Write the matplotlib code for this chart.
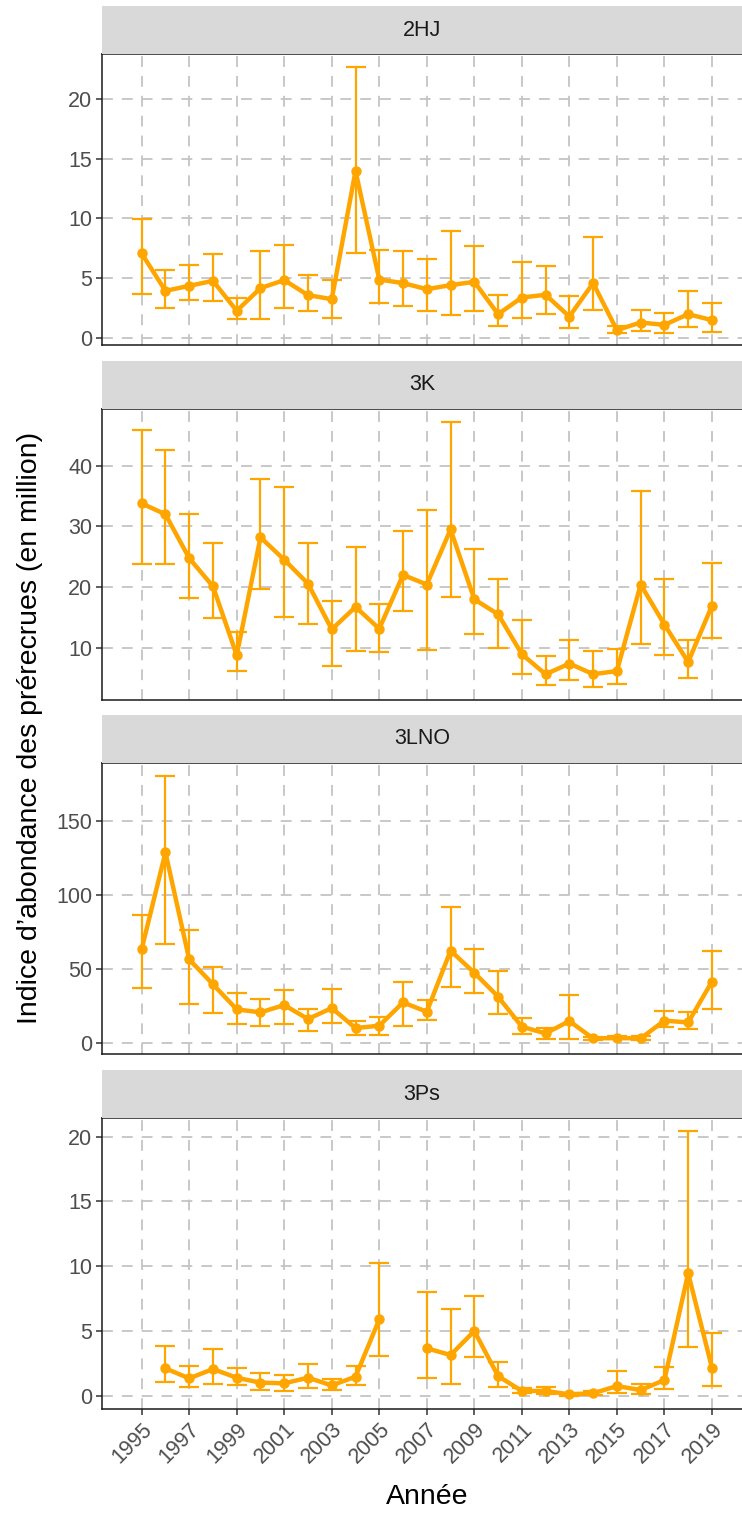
import numpy as np
import matplotlib
matplotlib.use("Agg")
import matplotlib.pyplot as plt

plt.rcParams["font.family"] = ["Liberation Sans", "DejaVu Sans"]

# ---------------------------------------------------------------
# Data
# ---------------------------------------------------------------
years = list(range(1995, 2020))
regions = ["2HJ", "3K", "3LNO", "3Ps"]

nan = np.nan
est_2hj = [7.06, 3.92, 4.34, 4.76, 2.24, 4.15, 4.82, 3.56, 3.22, 14.0, 4.87, 4.57, 4.06,
           4.40, 4.68, 1.96, 3.36, 3.59, 1.76, 4.57, 0.62, 1.26, 1.06, 1.96, 1.46]
low_2hj = [3.64, 2.52, 3.14, 3.08, 1.54, 1.54, 2.46, 2.24, 1.68, 7.11, 2.89, 2.66, 2.21,
           1.93, 2.21, 0.95, 1.68, 1.99, 0.76, 2.32, 0.42, 0.56, 0.42, 0.90, 0.48]
upp_2hj = [9.94, 5.69, 6.13, 7.00, 3.36, 7.28, 7.76, 5.27, 4.85, 22.7, 7.37, 7.28, 6.61,
           8.96, 7.70, 3.56, 6.36, 5.99, 3.50, 8.43, 0.98, 2.35, 2.04, 3.87, 2.91]

est_3k = [33.8, 32.0, 24.75, 20.1, 8.73, 28.2, 24.5, 20.55, 13.0, 16.7, 13.1, 22.0, 20.4,
          29.5, 17.96, 15.5, 8.9, 5.58, 7.35, 5.6, 6.1, 20.4, 13.8, 7.6, 16.9]
low_3k = [23.8, 23.8, 18.1, 14.8, 6.13, 19.7, 15.0, 13.9, 6.9, 9.45, 9.28, 16.0, 9.56,
          18.3, 12.15, 10.0, 5.7, 3.8, 4.6, 3.5, 3.9, 10.55, 8.8, 4.9, 11.6]
upp_3k = [45.9, 42.6, 32.1, 27.2, 12.6, 37.9, 36.5, 27.2, 17.7, 26.6, 17.2, 29.3, 32.65,
          47.3, 26.3, 21.3, 14.5, 8.6, 11.3, 9.4, 9.7, 35.9, 21.3, 11.3, 24.0]

est_3lno = [63.4, 128.6, 56.4, 39.6, 22.7, 20.7, 25.6, 16.2, 23.6, 10.1, 11.7, 27.4, 21.1,
            62.3, 47.4, 31.3, 11.0, 6.5, 14.8, 3.1, 3.4, 3.1, 15.1, 13.9, 41.4]
low_3lno = [36.9, 67.0, 26.5, 20.0, 12.6, 11.2, 12.8, 7.9, 13.7, 5.4, 5.2, 11.7, 15.7,
            38.0, 34.0, 19.6, 6.1, 2.5, 2.9, 2.0, 2.5, 2.0, 10.6, 9.2, 22.7]
upp_3lno = [86.1, 180.3, 76.0, 51.3, 34.0, 29.9, 35.8, 22.9, 36.2, 14.6, 17.8, 40.9, 29.2,
            92.0, 63.2, 48.6, 17.1, 9.9, 32.2, 4.3, 4.5, 4.5, 21.8, 20.9, 62.3]

est_3ps = [nan, 2.13, 1.36, 2.08, 1.41, 1.03, 0.98, 1.41, 0.82, 1.49, 5.91, nan, 3.68,
           3.16, 5.01, 1.54, 0.39, 0.39, 0.13, 0.21, 0.77, 0.46, 1.23, 9.46, 2.19]
low_3ps = [nan, 1.11, 0.67, 0.95, 0.82, 0.46, 0.41, 0.64, 0.46, 0.85, 3.11, nan, 1.39,
           0.90, 3.00, 0.72, 0.21, 0.15, 0.00, 0.05, 0.21, 0.15, 0.57, 3.80, 0.80]
upp_3ps = [nan, 3.86, 2.31, 3.65, 2.19, 1.75, 1.62, 2.47, 1.29, 2.31, 10.28, nan, 8.05,
           6.71, 7.71, 2.65, 0.59, 0.67, 0.21, 0.39, 1.93, 0.93, 2.21, 20.46, 4.83]

series = {
    "2HJ":  (est_2hj, low_2hj, upp_2hj),
    "3K":   (est_3k, low_3k, upp_3k),
    "3LNO": (est_3lno, low_3lno, upp_3lno),
    "3Ps":  (est_3ps, low_3ps, upp_3ps),
}

y_ticks = {
    "2HJ":  [0, 5, 10, 15, 20],
    "3K":   [10, 20, 30, 40],
    "3LNO": [0, 50, 100, 150],
    "3Ps":  [0, 5, 10, 15, 20],
}
y_lims = {
    "2HJ":  (-0.63, 23.82),
    "3K":   (1.33, 49.4),
    "3LNO": (-7.4, 188.9),
    "3Ps":  (-1.0, 21.43),
}

x_ticks = list(range(1995, 2020, 2))

# ---------------------------------------------------------------
# Layout (pixel positions measured from reference)
# ---------------------------------------------------------------
W, H = 742, 1513
ORANGE = "#FFA500"
GRID = "#C4C4C4"

fig = plt.figure(figsize=(W / 100, H / 100), dpi=100)

left_px, right_px = 102, 751.6
panel_tops = [54, 409, 763, 1118]
panel_h = 291
strip_h = 48


def fx(px):
    return px / W


def fy(py):
    return 1 - py / H


for i, reg in enumerate(regions):
    top = panel_tops[i]
    ax = fig.add_axes([fx(left_px), fy(top + panel_h), fx(right_px - left_px), panel_h / H])
    sax = fig.add_axes([fx(left_px), fy(top), fx(right_px - left_px), strip_h / H])

    est, low, upp = (np.array(a, dtype=float) for a in series[reg])
    yrs = np.array(years)

    ax.errorbar(yrs, est, yerr=[est - low, upp - est], fmt="none",
                ecolor=ORANGE, elinewidth=1.6, capsize=7, capthick=1.6, zorder=3)
    ax.plot(yrs, est, color=ORANGE, lw=3.2, zorder=4)
    ax.plot(yrs, est, "o", color=ORANGE, ms=6.5, zorder=5)

    ax.set_xlim(1993.33, 2020.67)
    ax.set_ylim(*y_lims[reg])
    ax.set_yticks(y_ticks[reg])
    ax.set_xticks(x_ticks)
    ax.grid(True, color=GRID, lw=1.3, ls=(0, (6, 5)), zorder=0)
    ax.set_axisbelow(True)
    ax.tick_params(axis="both", length=4, width=1.1, color="#333333",
                   labelsize=15.5, labelcolor="#4D4D4D", pad=3)
    for sp in ax.spines.values():
        sp.set_color("#1A1A1A")
        sp.set_linewidth(1.1)
    if i < len(regions) - 1:
        ax.tick_params(axis="x", labelbottom=False, length=0)
    else:
        ax.set_xticklabels([str(y) for y in x_ticks], rotation=45,
                           ha="right", va="top", rotation_mode="anchor")
        ax.set_xlabel("Année", fontsize=20.5, color="black", labelpad=12)

    sax.set_facecolor("#D9D9D9")
    sax.set_xticks([])
    sax.set_yticks([])
    for sp in sax.spines.values():
        sp.set_visible(False)
    sax.text((742 - left_px) / 2 / (right_px - left_px), 0.5, reg,
             transform=sax.transAxes, ha="center", va="center",
             fontsize=15.5, color="#1A1A1A")

fig.text(fx(30), fy(728), "Indice d’abondance des prérecrues (en million)",
         rotation=90, ha="center", va="center", fontsize=20.5, color="black")

fig.savefig("out.png", dpi=100, facecolor="white")
